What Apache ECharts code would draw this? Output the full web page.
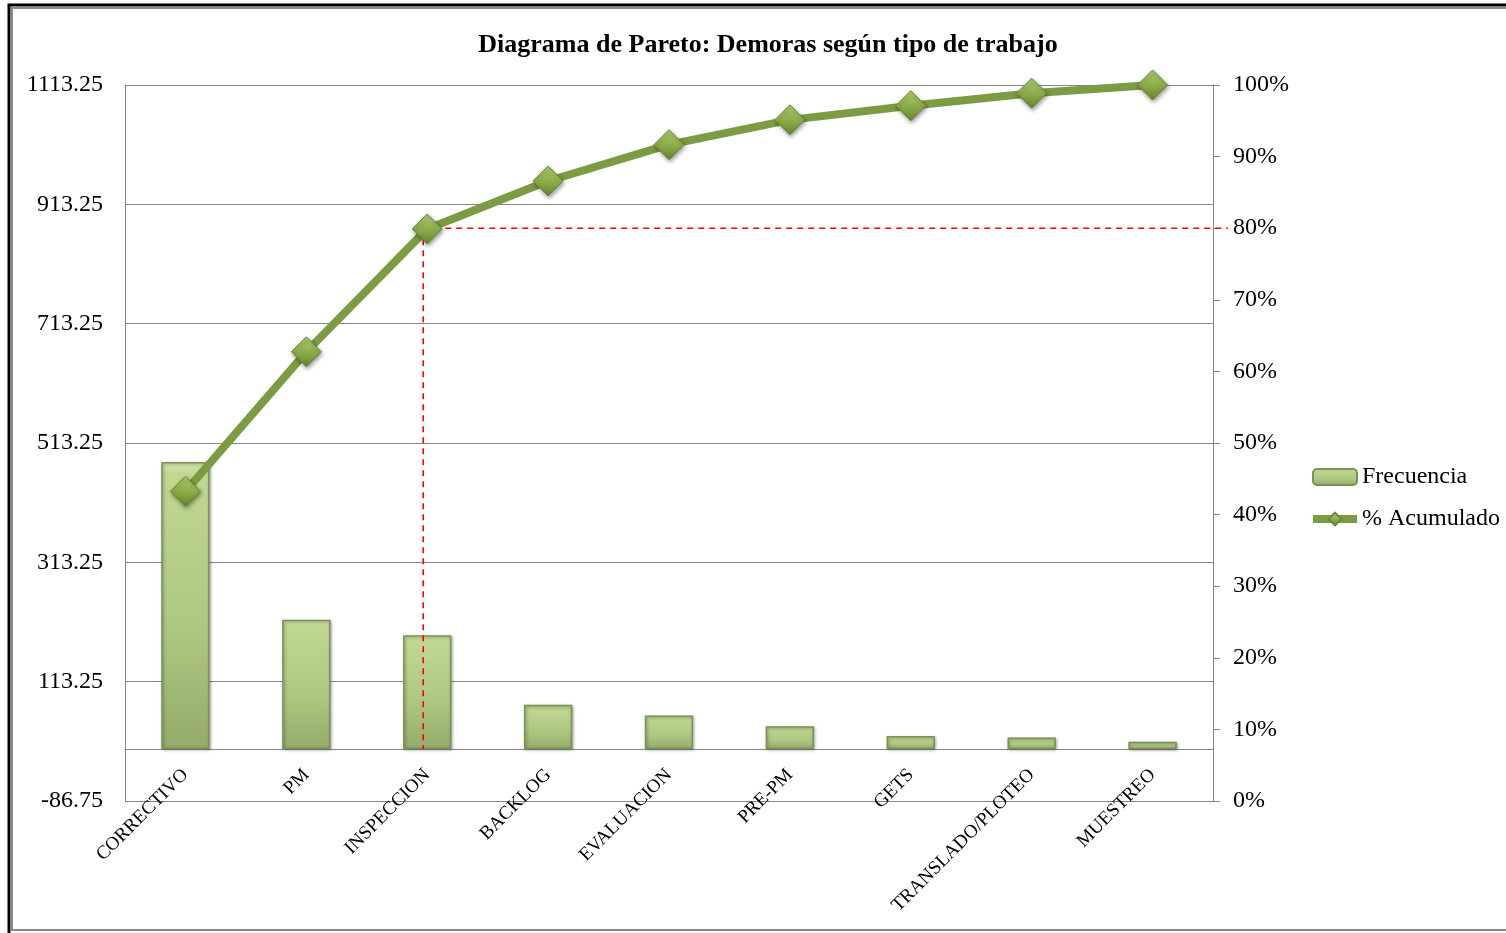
<!DOCTYPE html>
<html>
<head>
<meta charset="utf-8">
<title>Diagrama de Pareto</title>
<script src="https://cdn.jsdelivr.net/npm/echarts@6/dist/echarts.min.js"></script>
<style>
  html, body { margin: 0; padding: 0; background: #fff; }
  #chart { width: 1506px; height: 933px; }
</style>
</head>
<body>
<div id="chart"></div>
<script>
// Delay categories, sorted by frequency (Pareto order)
const categories = ['CORRECTIVO', 'PM', 'INSPECCION', 'BACKLOG', 'EVALUACION', 'PRE-PM', 'GETS', 'TRANSLADO/PLOTEO', 'MUESTREO'];
const frecuencia = [481.5, 217, 191, 74.5, 56.5, 38.5, 22, 19.5, 12.75];

// Left axis tick labels (frequency) and right axis (cumulative %)
const leftTicks = [-86.75, 113.25, 313.25, 513.25, 713.25, 913.25, 1113.25];
const rightTicks = [0, 10, 20, 30, 40, 50, 60, 70, 80, 90, 100];

// 80% cut-off guide
const cutoffCategory = 'INSPECCION';
const cutoffPct = 80;

const total = frecuencia.reduce((a, b) => a + b, 0);
let run = 0;
const acumulado = frecuencia.map(v => { run += v; return +(run / total * 100).toFixed(2); });

const leftMin = leftTicks[0];
const leftMax = leftTicks[leftTicks.length - 1];
const leftStep = leftTicks[1] - leftTicks[0];
// percentage on the right axis that lines up with 0 on the left axis
const zeroPct = (0 - leftMin) / (leftMax - leftMin) * 100;

const FONT = '"Liberation Serif", "Times New Roman", serif';
const chart = echarts.init(document.getElementById('chart'));

const diamondFill = new echarts.graphic.LinearGradient(0, 0, 0, 1, [
  { offset: 0, color: '#aecb6e' },
  { offset: 0.5, color: '#8eae4a' },
  { offset: 1, color: '#66852e' }
]);

chart.setOption({
  backgroundColor: '#ffffff',
  animation: false,
  title: {
    text: 'Diagrama de Pareto: Demoras según tipo de trabajo',
    left: 763,
    textAlign: 'center',
    top: 27,
    textStyle: { fontFamily: FONT, fontSize: 26, fontWeight: 'bold', color: '#000' }
  },
  graphic: [
    { type: 'rect', shape: { x: 9, y: 5, width: 1520, height: 940 }, style: { fill: 'none', stroke: '#000', lineWidth: 3 }, silent: true },
    { type: 'rect', shape: { x: 12, y: 8, width: 1520, height: 922 }, style: { fill: 'none', stroke: '#8a8a8a', lineWidth: 2 }, silent: true }
  ],
  legend: {
    orient: 'vertical',
    left: 1309,
    top: 465,
    padding: 0,
    itemGap: 18,
    itemWidth: 44,
    itemHeight: 16,
    data: [
      { name: 'Frecuencia' },
      { name: '% Acumulado', lineStyle: { width: 8 } }
    ],
    textStyle: { fontFamily: FONT, fontSize: 24, color: '#000', padding: [0, 0, 0, 0] }
  },
  grid: { left: 125, right: 293, top: 85, bottom: 132, containLabel: false, outerBoundsMode: 'none' },
  xAxis: {
    type: 'category',
    data: categories,
    axisLine: { onZero: true, lineStyle: { color: '#868686', width: 1 } },
    axisTick: { show: false },
    axisLabel: { interval: 0, rotate: 45, margin: -29, fontFamily: FONT, fontSize: 19, color: '#000' }
  },
  yAxis: [
    {
      type: 'value',
      min: leftMin,
      max: leftMax,
      interval: leftStep,
      axisLine: { show: true, lineStyle: { color: '#868686' } },
      axisTick: { show: false },
      splitLine: { lineStyle: { color: '#868686', width: 1 } },
      axisLabel: { margin: 22, fontFamily: FONT, fontSize: 24, color: '#000', formatter: v => v.toFixed(2) }
    },
    {
      type: 'value',
      min: rightTicks[0],
      max: rightTicks[rightTicks.length - 1],
      interval: rightTicks[1] - rightTicks[0],
      position: 'right',
      axisLine: { show: true, lineStyle: { color: '#868686' } },
      axisTick: { show: true, length: 7, inside: false, lineStyle: { color: '#868686' } },
      splitLine: { show: false },
      axisLabel: { margin: 20, fontFamily: FONT, fontSize: 24, color: '#000', formatter: '{value}%' }
    }
  ],
  series: [
    {
      name: 'Frecuencia',
      type: 'bar',
      data: frecuencia,
      barWidth: '40%',
      itemStyle: {
        color: new echarts.graphic.LinearGradient(0, 0, 0, 1, [
          { offset: 0, color: '#d6e8ae' },
          { offset: 0.04, color: '#c0d892' },
          { offset: 0.6, color: '#adc680' },
          { offset: 1, color: '#94ab6b' }
        ]),
        borderColor: '#7c9256',
        borderWidth: 1.5,
        shadowColor: 'rgba(0,0,0,0.35)',
        shadowBlur: 3,
        shadowOffsetX: 1,
        shadowOffsetY: 1
      },
      z: 2
    },
    {
      name: 'cutoff',
      type: 'custom',
      xAxisIndex: 0,
      yAxisIndex: 1,
      data: [[categories.indexOf(cutoffCategory), cutoffPct]],
      renderItem: (params, api) => {
        const p = api.coord([api.value(0), api.value(1)]);
        const bottom = api.coord([api.value(0), zeroPct]);
        const right = params.coordSys.x + params.coordSys.width + 15;
        const style = { stroke: '#ff0000', lineWidth: 1.6, lineDash: [6, 5], fill: 'none' };
        return {
          type: 'group',
          children: [
            { type: 'line', shape: { x1: p[0] - 4, y1: p[1], x2: right, y2: p[1] }, style },
            { type: 'line', shape: { x1: p[0] - 4, y1: p[1], x2: p[0] - 4, y2: bottom[1] }, style }
          ]
        };
      },
      silent: true,
      z: 3
    },
    {
      name: '% Acumulado',
      type: 'line',
      yAxisIndex: 1,
      data: acumulado,
      lineStyle: { color: '#7c9b42', width: 8 },
      symbol: 'diamond',
      symbolSize: 30,
      itemStyle: {
        color: diamondFill,
        borderColor: '#6a8a34',
        borderWidth: 1,
        shadowColor: 'rgba(0,0,0,0.4)',
        shadowBlur: 4,
        shadowOffsetX: 1,
        shadowOffsetY: 2
      },
      z: 4
    }
  ]
});
</script>
</body>
</html>
